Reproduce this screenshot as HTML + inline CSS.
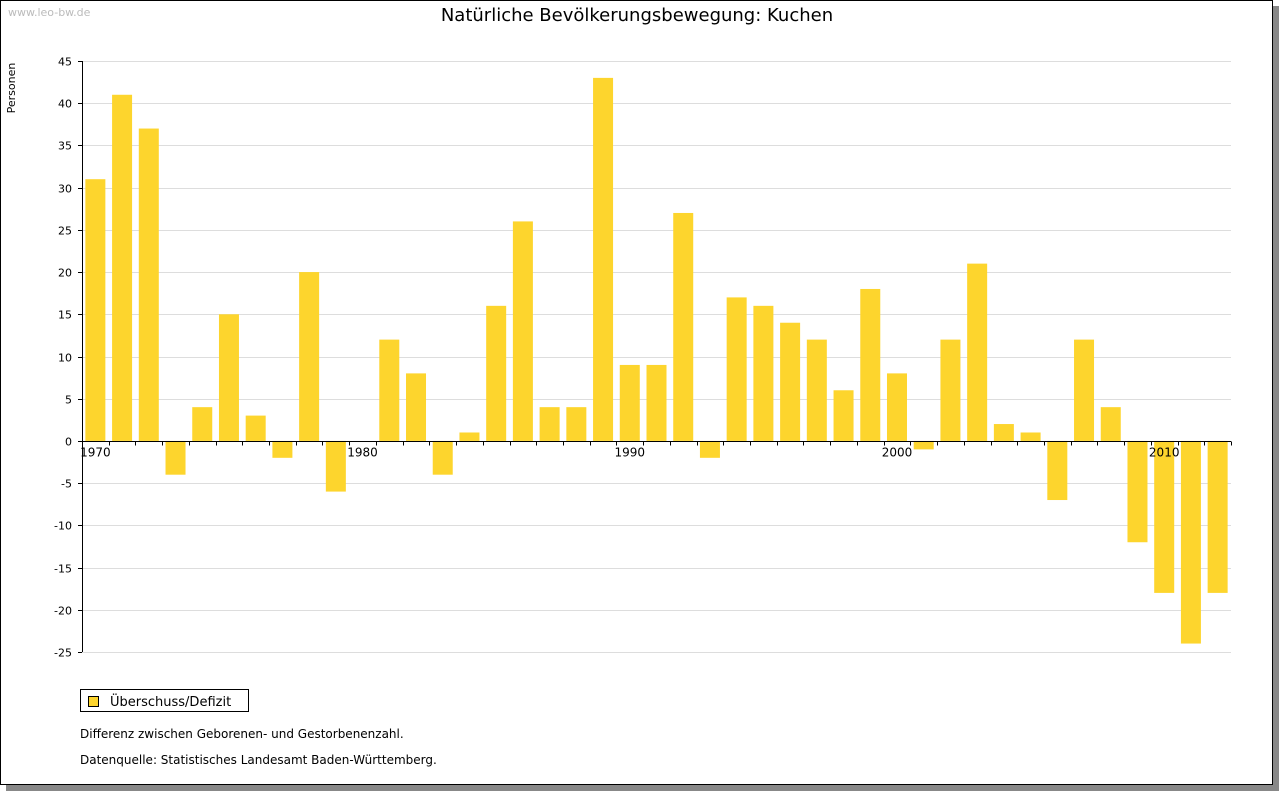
<!DOCTYPE html>
<html><head><meta charset="utf-8"><style>
body{margin:0;background:#fff;font-family:"DejaVu Sans","Liberation Sans",sans-serif;}
#frame{position:absolute;left:0;top:0;width:1273px;height:785px;border:1px solid #000;box-sizing:border-box;background:#fff;box-shadow:6px 6px 0 #888;}
svg text{font-family:"DejaVu Sans","Liberation Sans",sans-serif;}
</style></head><body>
<div id="frame"></div>
<svg id="chart" width="1280" height="791" style="position:absolute;left:0;top:0">
<text x="8" y="16" font-size="11" fill="#bbb">www.leo-bw.de</text>
<text x="637" y="21" font-size="18" text-anchor="middle" fill="#000">Natürliche Bevölkerungsbewegung: Kuchen</text>
<text x="15" y="88" font-size="11" transform="rotate(-90 15 88)" text-anchor="middle">Personen</text>
<g id="grid"></g><g id="bars"></g><g id="axes"></g>
<g>
<rect x="80.5" y="689.5" width="168" height="22" fill="#fff" stroke="#000"/>
<rect x="88.5" y="696.5" width="10" height="10" fill="#fdd52d" stroke="#000"/>
<text x="110" y="706" font-size="13">Überschuss/Defizit</text>
</g>
<text x="80" y="738" font-size="12">Differenz zwischen Geborenen- und Gestorbenenzahl.</text>
<text x="80" y="764" font-size="12">Datenquelle: Statistisches Landesamt Baden-Württemberg.</text>
</svg>
<script>
const years=[1970,1971,1972,1973,1974,1975,1976,1977,1978,1979,1980,1981,1982,1983,1984,1985,1986,1987,1988,1989,1990,1991,1992,1993,1994,1995,1996,1997,1998,1999,2000,2001,2002,2003,2004,2005,2006,2007,2008,2009,2010,2011,2012];
const values=[31,41,37,-4,4,15,3,-2,20,-6,0,12,8,-4,1,16,26,4,4,43,9,9,27,-2,17,16,14,12,6,18,8,-1,12,21,2,1,-7,12,4,-12,-18,-24,-18];
const yTicks=[45,40,35,30,25,20,15,10,5,0,-5,-10,-15,-20,-25];
const xLabels=[1970,1980,1990,2000,2010];
const NS="http://www.w3.org/2000/svg";
const x0=82,x1=1231,yTop=61,yBot=652,yMax=45,yMin=-25;
const step=(x1-x0)/years.length;
function y(v){return yTop+(yMax-v)*(yBot-yTop)/(yMax-yMin);}
function xc(i){return x0+step*(i+0.5);}
function mk(t,a,p){const e=document.createElementNS(NS,t);for(const k in a)e.setAttribute(k,a[k]);p.appendChild(e);return e;}
const grid=document.getElementById('grid'),bars=document.getElementById('bars'),axes=document.getElementById('axes');
yTicks.forEach(v=>{
 const yy=Math.round(y(v))+0.5;
 const l=mk('line',{x1:x0,x2:x1,y1:yy,y2:yy,stroke:'#ddd'},grid);
 
 
 mk('line',{x1:x0-4,x2:x0,y1:yy,y2:yy,stroke:'#000'},axes);
 const t=mk('text',{x:x0-10,y:yy+4,'font-size':11,'text-anchor':'end'},axes);
 t.textContent=v;
 
 
});
values.forEach((v,i)=>{
 const w=20,top=Math.min(y(v),y(0)),h=Math.abs(y(v)-y(0));
 const r=mk('rect',{x:xc(i)-w/2,y:top,width:w,height:h,fill:'#fdd52d'},bars);
 
 
});
const ax=mk('line',{x1:x0+0.5,x2:x0+0.5,y1:yTop,y2:yBot,stroke:'#000'},axes);


const zy=Math.round(y(0))+0.5;
const xa=mk('line',{x1:x0,x2:x1,y1:zy,y2:zy,stroke:'#000'},axes);


for(let i=0;i<=years.length;i++){const xx=Math.round(x0+step*i)+0.5;mk('line',{x1:xx,x2:xx,y1:zy,y2:zy+4,stroke:'#000'},axes);}
xLabels.forEach(yr=>{
 const i=years.indexOf(yr);
 const t=mk('text',{x:xc(i),y:zy+15,'font-size':12,'text-anchor':'middle'},axes);
 t.textContent=yr;
 
 
});
</script>
</body></html>
